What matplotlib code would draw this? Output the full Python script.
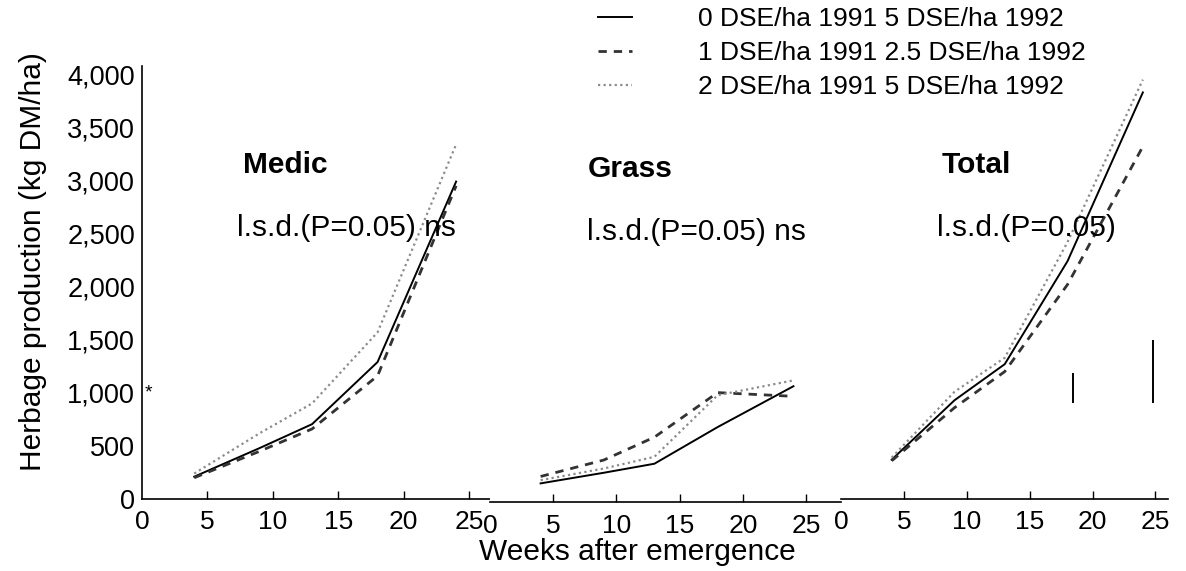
import matplotlib
matplotlib.use("Agg")
import matplotlib.pyplot as plt
from matplotlib.ticker import FuncFormatter

plt.rcParams["font.family"] = ["Liberation Sans", "DejaVu Sans"]

# ── Data ─────────────────────────────────────────────────────────────────────
weeks = [4, 9, 13, 18, 24]

treatments = [
    "0 DSE/ha 1991 5 DSE/ha 1992",
    "1 DSE/ha 1991 2.5 DSE/ha 1992",
    "2 DSE/ha 1991 5 DSE/ha 1992",
]

medic_0 = [210, 480, 705, 1290, 2990]
medic_1 = [200, 450, 660, 1160, 2950]
medic_2 = [240, 620, 900, 1570, 3340]

grass_0 = [180, 280, 365, 710, 1095]
grass_1 = [245, 400, 615, 1035, 1000]
grass_2 = [210, 320, 430, 1010, 1150]

total_0 = [370, 930, 1270, 2240, 3830]
total_1 = [360, 860, 1200, 2020, 3320]
total_2 = [390, 1010, 1330, 2420, 3950]

# l.s.d. bars for the total panel
lsd_weeks = [18.4, 24.8]
lsd_base = [900, 900]
lsd_size = [290, 600]

xticks = [0, 5, 10, 15, 20, 25]
yticks = [0, 500, 1000, 1500, 2000, 2500, 3000, 3500, 4000]

# ── Styles ───────────────────────────────────────────────────────────────────
styles = [
    dict(color="black", lw=1.4, linestyle="-"),
    dict(color="#333333", lw=2.0, linestyle=(0, (3, 2.5))),
    dict(color="#8c8c8c", lw=1.6, linestyle=(0, (1, 1.5))),
]

fig = plt.figure(figsize=(11.86, 5.71), dpi=100)

# panel boxes in figure fractions: left, bottom, width, height, x max
panels = [
    ("Medic", "l.s.d.(P=0.05) ns", [medic_0, medic_1, medic_2],
     (0.1196, 0.1261, 0.2937, 0.758), 26.6, (7.7, 7.3)),
    ("Grass", "l.s.d.(P=0.05) ns", [grass_0, grass_1, grass_2],
     (0.4132, 0.1200, 0.2963, 0.758), 27.8, (7.75, 7.7)),
    ("Total", "l.s.d.(P=0.05)", [total_0, total_1, total_2],
     (0.7095, 0.1261, 0.2753, 0.758), 26.0, (8.0, 7.6)),
]

axes = []
for i, (title, lsd_text, series, box, xmax, (tx, lx)) in enumerate(panels):
    ax = fig.add_axes(box)
    axes.append(ax)
    for vals, st, lab in zip(series, styles, treatments):
        ax.plot(weeks, vals, label=lab, **st)

    ax.set_xlim(0, xmax)
    ax.set_ylim(0, 4077)
    ax.set_xticks(xticks)
    ax.tick_params(axis="x", direction="in", length=6, width=1.0,
                   labelsize=19, pad=8)
    ax.xaxis.get_major_ticks()[0].tick1line.set_visible(False)

    for side in ("top", "right"):
        ax.spines[side].set_visible(False)
    ax.spines["bottom"].set_linewidth(1.2)

    if i == 0:
        ax.set_yticks(yticks)
        ax.yaxis.set_major_formatter(FuncFormatter(lambda v, p: f"{int(v):,}"))
        ax.tick_params(axis="y", length=0, labelsize=19.5, pad=5)
        ax.spines["left"].set_linewidth(1.2)
        ax.text(0.2, 1000, "*", fontsize=14, ha="left", va="center")
    else:
        ax.spines["left"].set_visible(False)
        ax.set_yticks([])

    ax.text(tx, 3145, title, fontsize=21.5, fontweight="bold",
            ha="left", va="center")
    ax.text(lx, 2552, lsd_text, fontsize=21.5, ha="left", va="center")

# vertical l.s.d. bars on the total panel
axes[2].vlines(lsd_weeks, lsd_base, [b + s for b, s in zip(lsd_base, lsd_size)],
               color="black", lw=1.4)

fig.text(33 / 1186, 1 - 262 / 571, "Herbage production (kg DM/ha)",
         rotation=90, ha="center", va="center", fontsize=21.5)
fig.text(637 / 1186, 1 - 552 / 571, "Weeks after emergence",
         ha="center", va="center", fontsize=21.5)

handles, labels = axes[0].get_legend_handles_labels()
fig.legend(handles, labels, loc="upper left",
           bbox_to_anchor=(598 / 1186, 1 - 7 / 571), frameon=False,
           fontsize=19, handlelength=1.3, handletextpad=2.5,
           labelspacing=0.38, borderpad=0, borderaxespad=0)

fig.savefig("out.png", dpi=100)
